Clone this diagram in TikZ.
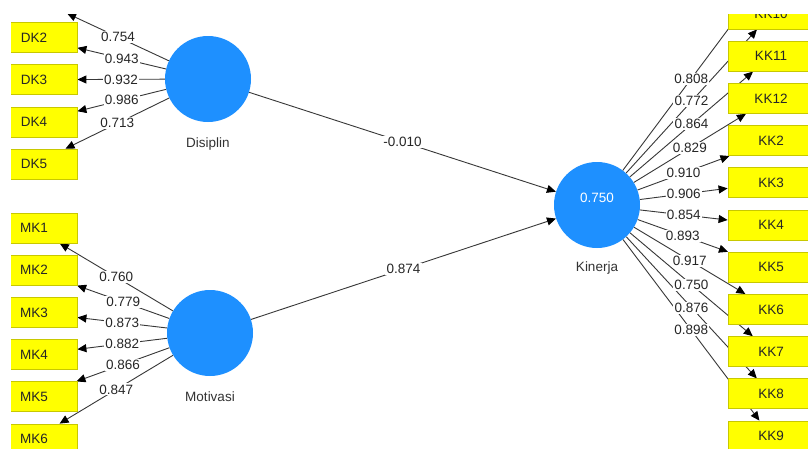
\documentclass[tikz,border=0pt]{standalone}
\usepackage{fontspec}
\setmainfont{Liberation Sans}
\usetikzlibrary{arrows.meta}
\pgfdeclarelayer{fg}
\pgfsetlayers{main,fg}
\definecolor{lvblue}{RGB}{30,144,255}
\definecolor{indyellow}{RGB}{255,255,0}
\definecolor{indborder}{RGB}{200,200,0}
\definecolor{linegray}{RGB}{55,55,55}
\begin{document}
\begin{tikzpicture}[x=1pt,y=-1pt,
  font=\fontsize{13.5}{16}\selectfont,
  latent/.style={circle, fill=lvblue, draw=none, minimum size=86pt, inner sep=0pt},
  ind/.style={rectangle, fill=indyellow, draw=indborder, line width=0.8pt,
    minimum width=86pt, minimum height=30pt, inner sep=0pt, text=black!85},
  conn/.style={draw=linegray, line width=0.9pt,
    -{Triangle[length=9pt,width=8pt,color=black]}},
  val/.style={fill=white, inner sep=1.2pt, text=black!85},
  lvname/.style={text=black!80}]
\useasboundingbox (0,0) rectangle (808,448);
\fill[white] (0,0) rectangle (808,448);
\begin{scope}
\clip (11,14) rectangle (808,448);
% latent variables
\node[latent] (dis) at (208,79) {};
\node[latent] (mot) at (210,333) {};
\node[latent] (kin) at (597,205) {};
\node[text=white] (kval) at (597,198) {0.750};
\node[lvname] (disname) at (208,144) {Disiplin};
\node[lvname] (motname) at (210,397) {Motivasi};
\node[lvname] (kinname) at (597,268) {Kinerja};
% indicators (on the foreground layer, clipped to the same view)
\begin{pgfonlayer}{fg}
\begin{scope}
\clip (11,14) rectangle (808,448);
\foreach \n/\y in {1/-2, 2/37.5, 3/79.7, 4/121.9, 5/164.1}
  \node[ind] (dk\n) at (34,\y) {DK\n};
\foreach \n/\y in {1/228, 2/270.2, 3/312.4, 4/354.6, 5/396.8, 6/439}
  \node[ind] (mk\n) at (34,\y) {MK\n};
\foreach \n/\y in {1/-28.2, 10/14, 11/56.2, 12/98.4, 2/140.6, 3/182.8,
                   4/225, 5/267.2, 6/309.4, 7/351.6, 8/393.8, 9/436}
  \node[ind] (kk\n) at (771,\y) {KK\n};
\end{scope}
\end{pgfonlayer}
% connectors
\foreach \n in {1,...,5} \draw[conn] (dis) -- (dk\n);
\foreach \n in {1,...,6} \draw[conn] (mot) -- (mk\n);
\foreach \n in {1,10,11,12,2,3,4,5,6,7,8,9} \draw[conn] (kin) -- (kk\n);
\draw[conn] (dis) -- (kin);
\draw[conn] (mot) -- (kin);
% labels
\foreach \n/\v in {1/0.754, 2/0.943, 3/0.932, 4/0.986, 5/0.713}
  \path (dis) -- node[val] (ldk\n) {\v} (dk\n);
\foreach \n/\v in {1/0.760, 2/0.779, 3/0.873, 4/0.882, 5/0.866, 6/0.847}
  \path (mot) -- node[val] (lmk\n) {\v} (mk\n);
\foreach \n/\v in {1/0.808, 10/0.772, 11/0.864, 12/0.829, 2/0.910, 3/0.906,
                   4/0.854, 5/0.893, 6/0.917, 7/0.750, 8/0.876, 9/0.898}
  \path (kin) -- node[val] (lkk\n) {\v} (kk\n);
\path (dis) -- node[val] (ldis) {-0.010} (kin);
\path (mot) -- node[val] (lmot) {0.874} (kin);
\end{scope}
\end{tikzpicture}
\end{document}
